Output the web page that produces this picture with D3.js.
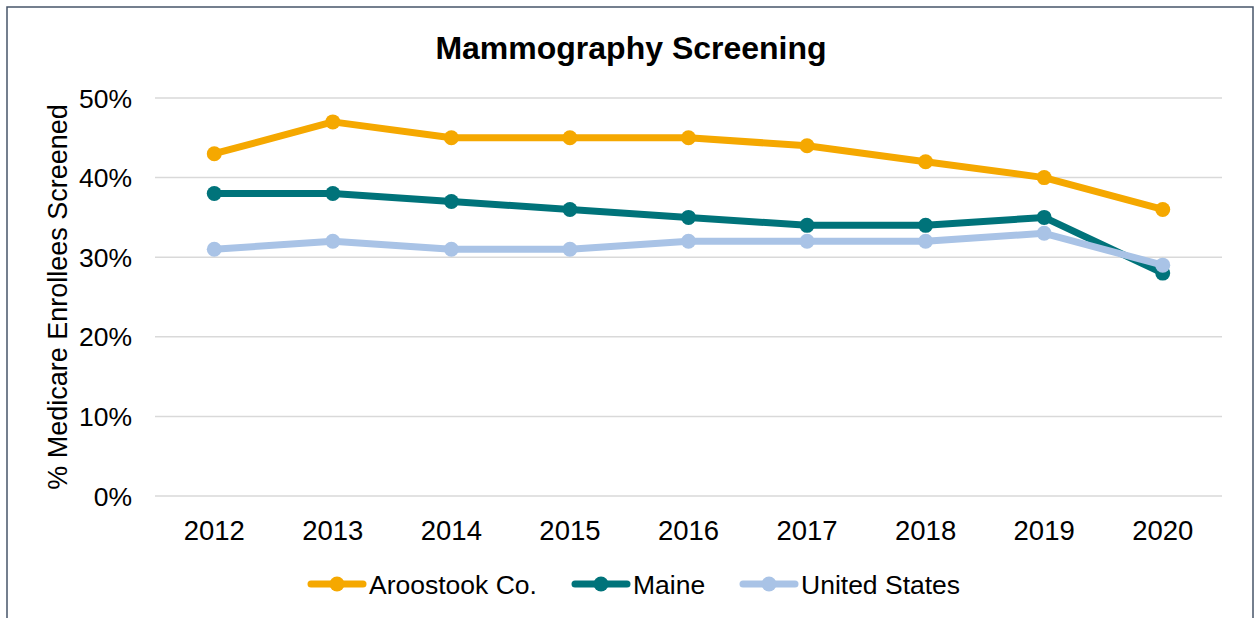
<!DOCTYPE html>
<html lang="en">
<head>
    <meta charset="UTF-8">
    <title>Mammography Screening</title>
    <script src="https://cdn.jsdelivr.net/npm/d3@7"></script>
    <style>
        body { margin: 0; background: #fff; }
        text { font-family: "Liberation Sans", Arial, sans-serif; fill: #000; }
    </style>
</head>
<body>
</body>
<script>
    var width = 1259
    var height = 618

    var years = ['2012', '2013', '2014', '2015', '2016', '2017', '2018', '2019', '2020']
    var aroostook = [0.43, 0.47, 0.45, 0.45, 0.45, 0.44, 0.42, 0.40, 0.36]
    var maine = [0.38, 0.38, 0.37, 0.36, 0.35, 0.34, 0.34, 0.35, 0.28]
    var unitedStates = [0.31, 0.32, 0.31, 0.31, 0.32, 0.32, 0.32, 0.33, 0.29]
    var yTicks = [0, 0.1, 0.2, 0.3, 0.4, 0.5]
    var seriesNames = ['Aroostook Co.', 'Maine', 'United States']
    var seriesColors = ['#F5A800', '#00737A', '#A9C3E6']

    var series = [
        { name: seriesNames[0], values: aroostook, color: seriesColors[0] },
        { name: seriesNames[1], values: maine, color: seriesColors[1] },
        { name: seriesNames[2], values: unitedStates, color: seriesColors[2] }
    ]

    var svg = d3.select('body')
        .append('svg')
        .attr('width', width)
        .attr('height', height);

    // outer frame
    svg.append('rect')
        .attr('x', 7).attr('y', 7)
        .attr('width', 1246).attr('height', 620)
        .attr('fill', '#fff')
        .attr('stroke', '#475569')
        .attr('stroke-width', 1.5);

    var x = d3.scalePoint().domain(years).range([155, 1222]).padding(0.5)
    var y = d3.scaleLinear().domain([0, 0.5]).range([496, 98])

    // gridlines
    svg.append('g').selectAll('line')
        .data(yTicks)
        .enter().append('line')
        .attr('x1', 155).attr('x2', 1222)
        .attr('y1', d => y(d)).attr('y2', d => y(d))
        .attr('stroke', '#d9d9d9')
        .attr('stroke-width', 1.5);

    // y axis labels
    svg.append('g').selectAll('text')
        .data(yTicks)
        .enter().append('text')
        .attr('x', 132)
        .attr('y', d => y(d) + 9.5)
        .attr('text-anchor', 'end')
        .style('font-size', '26.5px')
        .text(d => d3.format('.0%')(d));

    // x axis labels
    svg.append('g').selectAll('text')
        .data(years)
        .enter().append('text')
        .attr('x', d => x(d))
        .attr('y', 540)
        .attr('text-anchor', 'middle')
        .style('font-size', '27.5px')
        .text(d => d);

    // title
    svg.append('text')
        .attr('x', 631).attr('y', 59)
        .attr('text-anchor', 'middle')
        .style('font-size', '32px')
        .style('font-weight', 'bold')
        .text('Mammography Screening');

    // y axis title
    svg.append('text')
        .attr('transform', 'translate(67,297) rotate(-90)')
        .attr('text-anchor', 'middle')
        .style('font-size', '27px')
        .text('% Medicare Enrollees Screened');

    var line = d3.line()
        .x((d, i) => x(years[i]))
        .y(d => y(d));

    var groups = svg.append('g').selectAll('g')
        .data(series)
        .enter().append('g');

    groups.append('path')
        .attr('d', d => line(d.values))
        .attr('fill', 'none')
        .attr('stroke', d => d.color)
        .attr('stroke-width', 7)
        .attr('stroke-linejoin', 'round');

    groups.selectAll('circle')
        .data(d => d.values.map(v => ({ v: v, color: d.color })))
        .enter().append('circle')
        .attr('cx', (d, i) => x(years[i]))
        .attr('cy', d => y(d.v))
        .attr('r', 7.5)
        .attr('fill', d => d.color);

    // legend
    var legendX = [308, 572, 740]
    var legend = svg.append('g').selectAll('g')
        .data(series)
        .enter().append('g')
        .attr('transform', (d, i) => 'translate(' + legendX[i] + ',584)');

    legend.append('line')
        .attr('x1', 3).attr('x2', 55)
        .attr('stroke', d => d.color)
        .attr('stroke-width', 7)
        .attr('stroke-linecap', 'round');

    legend.append('circle')
        .attr('cx', 29).attr('r', 7.5)
        .attr('fill', d => d.color);

    legend.append('text')
        .attr('x', 61).attr('y', 9.5)
        .style('font-size', '26.5px')
        .text(d => d.name);
</script>
</html>
